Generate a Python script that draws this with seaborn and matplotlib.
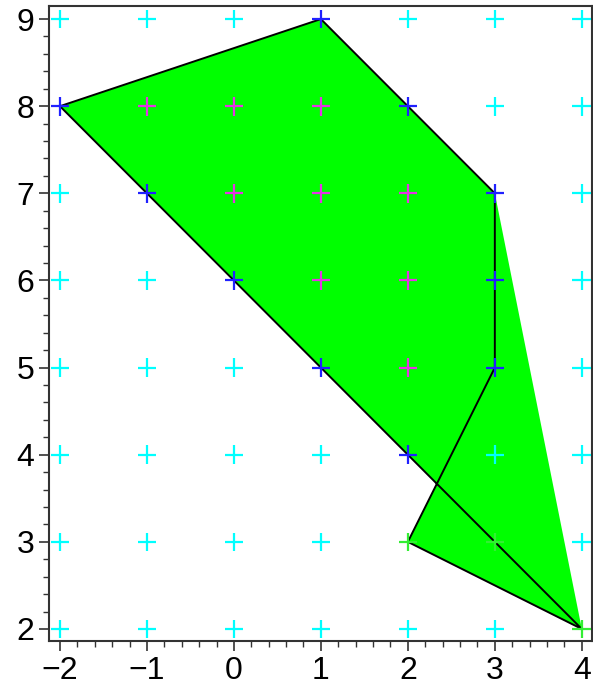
import matplotlib
matplotlib.use("Agg")
import matplotlib.pyplot as plt
from matplotlib.ticker import MultipleLocator
import seaborn as sns
import pandas as pd

# Polygon outline (closed)
poly_x = [-2, 1, 3, 3, 2, 4, -2]
poly_y = [8, 9, 7, 5, 3, 2, 8]
# Shaded region: outer boundary, closing at the crossing of the two inner edges
fill_x = [-2, 1, 3, 4, 2, 7 / 3]
fill_y = [8, 9, 7, 2, 3, 11 / 3]

# Lattice points by class
interior_pts = [(-1, 8), (0, 8), (1, 8), (0, 7), (1, 7), (2, 7), (1, 6), (2, 6), (2, 5)]
boundary_pts = [(-2, 8), (1, 9), (2, 8), (3, 7), (-1, 7), (0, 6), (3, 6), (1, 5), (3, 5), (2, 4)]
special_pts = [(2, 3), (3, 3), (4, 2)]
x_range = list(range(-2, 5))
y_range = list(range(2, 10))

sns.set_theme(style="ticks")
plt.rcParams["font.family"] = ["Liberation Sans", "DejaVu Sans"]

classified = set(interior_pts) | set(boundary_pts) | set(special_pts)
rows = []
for x in x_range:
    for y in y_range:
        if (x, y) not in classified:
            rows.append((x, y, "outside"))
rows += [(x, y, "interior") for x, y in interior_pts]
rows += [(x, y, "boundary") for x, y in boundary_pts]
rows += [(x, y, "special") for x, y in special_pts]
pts = pd.DataFrame(rows, columns=["x", "y", "kind"])

palette = {"outside": "#00FFFF", "interior": "#E633E6",
           "boundary": "#2020FF", "special": "#33EE33"}

fig = plt.figure(figsize=(5.93, 6.90), dpi=100)
ax = fig.add_axes([0.0826, 0.0710, 0.9154, 0.9203])

ax.fill(fill_x, fill_y, color="#00FF00", zorder=1, linewidth=0)
line_df = pd.DataFrame({"x": poly_x, "y": poly_y})
sns.lineplot(data=line_df, x="x", y="y", sort=False, estimator=None,
             color="black", linewidth=1.4, ax=ax, zorder=2)
sns.scatterplot(data=pts, x="x", y="y", hue="kind", palette=palette,
                marker="+", s=180, linewidth=1.6, legend=False, ax=ax, zorder=3)

ax.set_xlim(-2.126, 4.115)
ax.set_ylim(1.862, 9.15)
ax.xaxis.set_major_locator(MultipleLocator(1))
ax.xaxis.set_minor_locator(MultipleLocator(0.2))
ax.yaxis.set_major_locator(MultipleLocator(1))
ax.yaxis.set_minor_locator(MultipleLocator(0.2))
ax.tick_params(which="major", length=7.5, width=1.2, labelsize=23, direction="out",
               color="#333333", labelcolor="black", pad=3)
ax.tick_params(which="minor", length=4, width=1.0, direction="out", color="#333333")
ax.set_xlabel("")
ax.set_ylabel("")
for s in ax.spines.values():
    s.set_visible(True)
    s.set_linewidth(1.5)
    s.set_color("#333333")

fig.savefig("out.png", dpi=100)
